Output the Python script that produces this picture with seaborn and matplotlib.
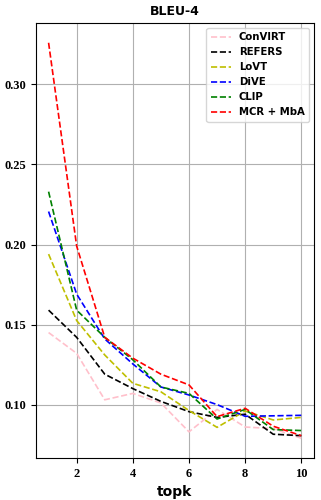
import numpy as np
import pandas as pd
import matplotlib
matplotlib.use("Agg")
import matplotlib.pyplot as plt
import seaborn as sns

# data
topk = [1, 2, 3, 4, 5, 6, 7, 8, 9, 10]
convirt = [0.145, 0.132, 0.103, 0.107, 0.101, 0.083, 0.097, 0.086, 0.085, 0.079]
refers = [0.159, 0.142, 0.119, 0.110, 0.102, 0.0956, 0.092, 0.094, 0.0815, 0.0806]
lovt = [0.194, 0.1525, 0.131, 0.1133, 0.108, 0.0963, 0.0858, 0.096, 0.0904, 0.092]
dive = [0.2206, 0.169, 0.141, 0.1254, 0.111, 0.106, 0.100, 0.0927, 0.093, 0.0933]
clip = [0.233, 0.159, 0.142, 0.128, 0.111, 0.107, 0.091, 0.097, 0.0844, 0.0838]
mcr = [0.326, 0.199, 0.142, 0.129, 0.119, 0.1123, 0.0925, 0.0977, 0.0865, 0.0806]

methods = ["ConVIRT", "REFERS", "LoVT", "DiVE", "CLIP", "MCR + MbA"]
series = [convirt, refers, lovt, dive, clip, mcr]
colors = ["pink", "k", "y", "b", "g", "r"]

rows = []
for name, vals in zip(methods, series):
    for k, v in zip(topk, vals):
        rows.append({"topk": k, "score": v, "method": name})
df = pd.DataFrame(rows)

fig, ax = plt.subplots(figsize=(3.21, 5.0), dpi=100)
fig.subplots_adjust(left=0.112, right=0.978, top=0.954, bottom=0.084)

for name, col in zip(methods, colors):
    sns.lineplot(data=df[df["method"] == name], x="topk", y="score",
                 color=col, linestyle="--", linewidth=1.2, label=name, ax=ax)

ax.grid(True, color="#b0b0b0", linewidth=0.8)
ax.set_title("BLEU-4", fontsize=9, fontweight="bold")
ax.set_xlabel("topk", fontsize=10, fontweight="bold")
ax.set_ylabel("")
ax.set_xticks([2, 4, 6, 8, 10])
ax.set_yticks([0.10, 0.15, 0.20, 0.25, 0.30])
for lab in ax.get_xticklabels() + ax.get_yticklabels():
    lab.set_family("Liberation Serif")
    lab.set_fontweight("bold")
    lab.set_fontsize(9)

ax.legend(loc="upper right", prop={"weight": "bold", "size": 7.3})

plt.savefig("out.png", dpi=100)
